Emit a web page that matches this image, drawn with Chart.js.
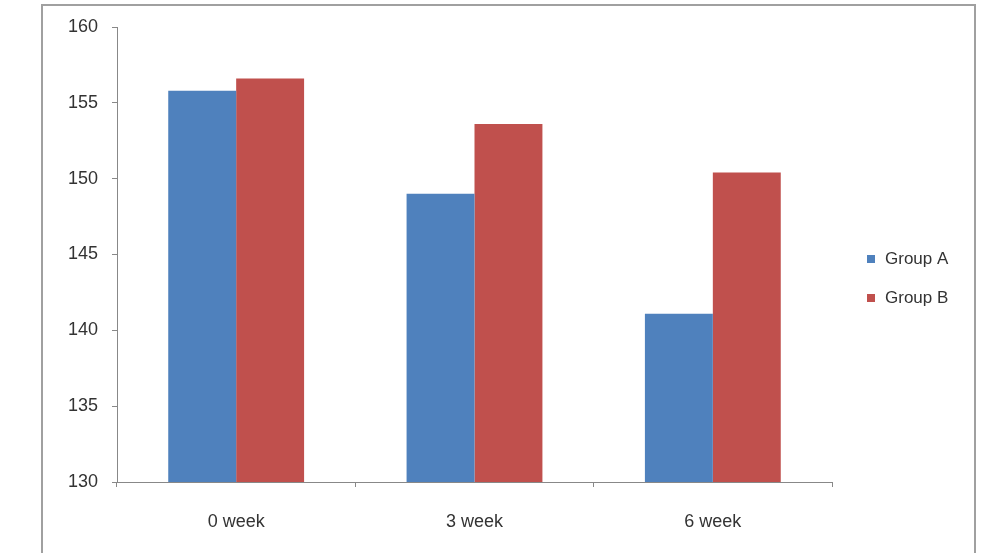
<!DOCTYPE html>
<html>
<head>
<meta charset="utf-8">
<script src="https://cdn.jsdelivr.net/npm/chart.js@4.4.1/dist/chart.umd.min.js"></script>
<style>
  html, body { margin: 0; padding: 0; background: #fff; overflow: hidden; }
  #wrap { position: relative; width: 985px; height: 553px; }
  #frame { position: absolute; left: 41px; top: 4px; width: 935px; height: 600px;
           border: 2px solid #a0a0a0; box-sizing: border-box; }
  canvas { position: absolute; left: 0; top: 0; }
</style>
</head>
<body>
<div id="wrap">
  <div id="frame"></div>
  <canvas id="c" width="985" height="553"></canvas>
</div>
<script>
const categories = ["0 week", "3 week", "6 week"];
const groupA = [155.8, 149.0, 141.1];
const groupB = [156.6, 153.6, 150.4];
const seriesNames = ["Group A", "Group B"];
const yTicks = [130, 135, 140, 145, 150, 155, 160];

const FONT = "'Liberation Sans', Arial, sans-serif";

const legendPlugin = {
  id: 'sideLegend',
  afterDraw(chart) {
    const ctx = chart.ctx;
    const rows = [259, 298];
    ctx.save();
    chart.data.datasets.forEach((ds, i) => {
      const y = rows[i];
      ctx.fillStyle = ds.backgroundColor;
      ctx.fillRect(867, y - 4, 8, 8);
      ctx.fillStyle = '#333';
      ctx.font = '17px ' + FONT;
      ctx.textBaseline = 'middle';
      ctx.textAlign = 'left';
      ctx.fillText(ds.label, 885, y);
    });
    ctx.restore();
  }
};

new Chart(document.getElementById('c'), {
  type: 'bar',
  data: {
    labels: categories,
    datasets: [
      { label: seriesNames[0], data: groupA, backgroundColor: '#4F81BD',
        categoryPercentage: 0.57, barPercentage: 1.0 },
      { label: seriesNames[1], data: groupB, backgroundColor: '#C0504D',
        categoryPercentage: 0.57, barPercentage: 1.0 }
    ]
  },
  options: {
    responsive: false,
    animation: false,
    devicePixelRatio: 1,
    layout: { padding: { left: 0, top: 27, right: 153, bottom: 0 } },
    plugins: { legend: { display: false }, tooltip: { enabled: false } },
    scales: {
      x: {
        afterFit(s) { s.height = 71; },
        grid: { drawOnChartArea: false, drawTicks: true, tickLength: 5, color: '#888', offset: true },
        border: { color: '#888', width: 1 },
        ticks: { color: '#333', padding: 24, font: { family: FONT, size: 18 } }
      },
      y: {
        min: 130, max: 160,
        afterFit(s) { s.width = 117; },
        afterBuildTicks(s) { s.ticks = yTicks.map(v => ({ value: v })); },
        grid: { drawOnChartArea: false, drawTicks: true, tickLength: 5, color: '#888' },
        border: { color: '#888', width: 1 },
        ticks: { color: '#333', padding: 14, font: { family: FONT, size: 18 } }
      }
    }
  },
  plugins: [legendPlugin]
});
</script>
</body>
</html>
